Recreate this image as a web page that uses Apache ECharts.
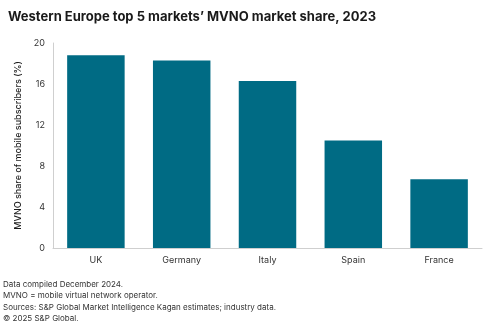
<!DOCTYPE html>
<html><head><meta charset="utf-8">
<script src="https://cdn.jsdelivr.net/npm/echarts@6/dist/echarts.min.js"></script>
<style>html,body{margin:0;padding:0;background:#fff;}#c{width:492px;height:332px;}</style>
</head><body><div id="c"></div>
<script>
const categories = ["UK", "Germany", "Italy", "Spain", "France"];
const shareValues = [18.8, 18.3, 16.3, 10.5, 6.7];
const yTicks = [0, 4, 8, 12, 16, 20];
const titleText = "Western Europe top 5 markets\u2019 MVNO market share, 2023";
const yAxisTitle = "MVNO share of mobile subscribers (%)";
const footnotes = [
  "Data compiled December 2024.",
  "MVNO = mobile virtual network operator.",
  "Sources: S&P Global Market Intelligence Kagan estimates; industry data.",
  "\u00A9 2025 S&P Global."
];
const chart = echarts.init(document.getElementById('c'), null, {renderer:'canvas'});
chart.setOption({
  animation: false,
  title: {
    text: titleText, left: 3, top: 6,
    textStyle: {fontFamily: 'Inter', fontWeight: 'bold', fontSize: 13, color: '#1a1a1a'}
  },
  graphic: [{
    type: 'text', left: 3, top: 279,
    style: {text: footnotes.join('\n'), fontFamily: 'Inter', fontSize: 8, lineHeight: 11.3, fill: '#333'}
  }],
  grid: {left: 53, right: 10, top: 43, bottom: 84},
  xAxis: {
    type: 'category', data: categories,
    axisLine: {lineStyle: {color: '#cfcfcf', width: 1}},
    axisTick: {show: false},
    axisLabel: {fontFamily: 'Inter', fontSize: 9, color: '#333', margin: 8}
  },
  yAxis: {
    type: 'value', min: yTicks[0], max: yTicks[yTicks.length-1], interval: 4,
    name: yAxisTitle, nameLocation: 'middle', nameGap: 30, nameRotate: 90,
    nameTextStyle: {fontFamily: 'Inter', fontSize: 9, fontWeight: 500, color: '#1a1a1a'},
    axisLine: {show: true, lineStyle: {color: '#cfcfcf', width: 1}},
    axisTick: {show: false},
    splitLine: {show: false},
    axisLabel: {fontFamily: 'Inter', fontSize: 9, color: '#333', margin: 8}
  },
  series: [{
    type: 'bar', data: shareValues, barCategoryGap: '33%',
    itemStyle: {color: '#006B84'}
  }]
});
</script></body></html>
